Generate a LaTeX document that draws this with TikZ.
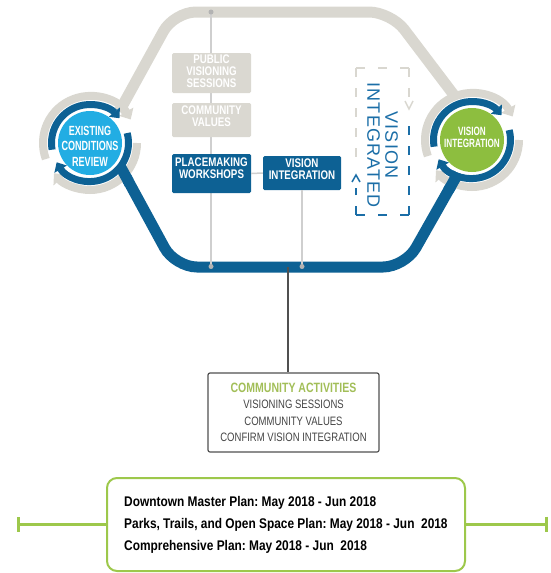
\documentclass[tikz,border=0pt]{standalone}
\usepackage{fontspec}
\setmainfont{Liberation Sans}
\newfontfamily\cond[FakeStretch=0.78]{Liberation Sans}
\newfontfamily\narr[FakeStretch=0.68]{Liberation Sans}
\newfontfamily\semi[FakeStretch=0.85]{Liberation Sans}
\newfontfamily\spaced[LetterSpace=6]{Liberation Sans}
\usetikzlibrary{arrows.meta}
\definecolor{trackgrey}{HTML}{D9D7D0}
\definecolor{boxgrey}{HTML}{DAD8D1}
\definecolor{dblue}{HTML}{0D6194}
\definecolor{lblue}{HTML}{22ADE3}
\definecolor{vgreen}{HTML}{8DBE3F}
\definecolor{agreen}{HTML}{A2BE58}
\definecolor{bgreen}{HTML}{9DC84B}
\definecolor{tblue}{HTML}{1B6EA7}
\definecolor{lgline}{HTML}{CFCFCF}
\definecolor{dotgrey}{HTML}{B3B3B3}
\definecolor{dgrey}{HTML}{505050}
\definecolor{tgrey}{HTML}{444444}
\frenchspacing
\begin{document}
\begin{tikzpicture}[x=1pt,y=-1pt,
  track/.style={line width=11pt, rounded corners=22pt},
  boxshape/.style={rectangle, inner sep=0pt, rounded corners=1.5pt, minimum width=79pt},
  gbox/.style={boxshape, fill=boxgrey},
  bbox/.style={boxshape, fill=dblue},
  boxtext/.style={text=white, align=center, inner sep=0pt, font=\cond\bfseries\fontsize{12.5}{12}\selectfont},
  circtext/.style={text=white, align=center, inner sep=0pt},
  vline/.style={lgline, line width=1.5pt},
  tdot/.style={circle, fill=dotgrey, inner sep=0pt, minimum size=5pt},
  dashg/.style={trackgrey, line width=1.7pt, dash pattern=on 9pt off 11pt},
  dashb/.style={tblue, line width=1.7pt, dash pattern=on 9pt off 11pt},
  dashgh/.style={trackgrey, line width=1.7pt, dash pattern=on 9pt off 13pt},
  dashbh/.style={tblue, line width=1.7pt, dash pattern=on 9pt off 13pt},
  chev/.style={line width=1.5pt},
  greyring/.style={trackgrey, line width=8pt, -{Triangle[width=16pt,length=9pt]}},
  bluering/.style={dblue, line width=7pt, -{Triangle[width=14pt,length=8pt]}},
  greenbar/.style={bgreen, line width=3pt}
]
\useasboundingbox (0,0) rectangle (550,573);

% centres and track corners
\coordinate (cL) at (90,143);
\coordinate (cR) at (472,140);
\coordinate (g1) at (102,143);
\coordinate (g2) at (174,12);
\coordinate (g3) at (391,12);
\coordinate (g4) at (488,140);
\coordinate (b1) at (107.6,143);
\coordinate (b2) at (175,267);
\coordinate (b3) at (405,267);
\coordinate (b4) at (477,140);

% tracks
\draw[track, trackgrey] (g1) -- (g2) -- (g3) -- (g4);
\draw[track, dblue] (b1) -- (b2) -- (b3) -- (b4);

% vertical guide lines
\coordinate (topdot) at (211,12);
\coordinate (botdot) at (211,266.5);
\coordinate (botdot2) at (302,266.5);
\draw[vline] (topdot) -- (botdot);

% boxes
\node[gbox, minimum height=40pt] (pvs) at (211.5,73) {};
\node[boxtext] (pvst) at (211.5,71.5) {PUBLIC\\VISIONING\\SESSIONS};
\node[gbox, minimum height=34pt] (cv) at (211.5,120) {};
\node[boxtext] (cvt) at (211.5,116) {COMMUNITY\\VALUES};
\node[bbox, minimum height=39pt] (pw) at (211.5,173.5) {};
\node[boxtext] (pwt) at (211.5,168) {PLACEMAKING\\WORKSHOPS};
\node[bbox, minimum width=78pt, minimum height=34pt] (vi) at (302,173) {};
\node[boxtext] (vit) at (302,169.5) {VISION\\INTEGRATION};
\draw[vline] (pw.east) -- (vi.west);
\draw[vline] (vi.south) -- (botdot2);

% circles: white base and grey rings
\foreach \c in {cL,cR} {
  \fill[white] (\c) circle (43);
  \begin{scope}[shift={(\c)}, y=1pt]
    \draw[greyring] (200:47) arc[start angle=200, end angle=30, radius=47];
    \draw[greyring] (0:47) arc[start angle=0, end angle=-140, radius=47];
  \end{scope}
}
% blue track over grey rings
\begin{scope}
  \clip (cL) circle (56) (cR) circle (56);
  \draw[track, dblue] (b1) -- (b2) -- (b3) -- (b4);
\end{scope}
% discs and blue rings
\foreach \c/\col in {cL/lblue, cR/vgreen} {
  \begin{scope}[shift={(\c)}, y=1pt]
    \fill[white] (0,0) circle (35.5);
    \fill[\col] (0,0) circle (32);
    \draw[bluering] (190:38.5) arc[start angle=190, end angle=40, radius=38.5];
    \draw[bluering] (15:38.5) arc[start angle=15, end angle=-150, radius=38.5];
  \end{scope}
}
\node[circtext, font=\narr\bfseries\fontsize{13.3}{15.5}\selectfont] (ecr) at (90,146) {EXISTING\\CONDITIONS\\REVIEW};
\node[circtext, font=\narr\bfseries\fontsize{12}{12}\selectfont] (vin) at (472,137.5) {VISION\\INTEGRATION};

% dots on tracks
\node[tdot] (td1) at (topdot) {};
\node[tdot] (td2) at (botdot) {};
\node[tdot] (td3) at (botdot2) {};

% dashed frame
\coordinate (fTL) at (356,68);
\coordinate (fTR) at (409,68);
\coordinate (fBL) at (356,215);
\coordinate (fBR) at (409,215);
\draw[dashgh] (fTL) -- (fTR);
\draw[dashg] (fTL) -- (356,162);
\draw[dashg] (fTR) -- (409,100);
\draw[dashbh] (fBL) -- (fBR);
\draw[dashb] (fBR) -- (409,118);
\draw[dashb] (fBL) -- (356,188);
\draw[chev, trackgrey] (405,101) -- (409,109) -- (413,101);
\draw[chev, tblue] (352,182) -- (356,175) -- (360,182);
\node[rotate=-90, text=tblue, align=center, inner sep=0pt, font=\spaced\fontsize{18}{18}\selectfont] (vint) at (382.5,145) {VISION\\INTEGRATED};

% community activities
\coordinate (actdot) at (288,267);
\node[draw=dgrey, line width=1.2pt, rounded corners=2pt, minimum width=171pt, minimum height=79pt, inner sep=0pt] (act) at (293.5,412.5) {};
\node[text=tgrey, align=center, inner sep=0pt, font=\cond\fontsize{12.2}{16.5}\selectfont] (actt) at (293.5,412.5)
  {{\color{agreen}\bfseries\fontsize{13.5}{16.5}\selectfont COMMUNITY ACTIVITIES}\\VISIONING SESSIONS\\COMMUNITY VALUES\\CONFIRM VISION INTEGRATION};
\draw[dgrey, line width=1.2pt] (actdot) -- (actdot |- act.north);

% schedule
\node[draw=bgreen, line width=2pt, rounded corners=10pt, minimum width=358pt, minimum height=93pt, inner sep=0pt] (plan) at (286,524.5) {};
\node[anchor=west, align=left, inner sep=0pt, font=\semi\bfseries\fontsize{14}{22}\selectfont] (plant) at (124,525)
  {Downtown Master Plan: May 2018 - Jun 2018\\Parks, Trails, and Open Space Plan: May 2018 - Jun \ 2018\\Comprehensive Plan: May 2018 - Jun \ 2018};
\coordinate (gl) at (17,524);
\coordinate (gr) at (548,524);
\draw[greenbar, {Bar[width=15pt]}-] (gl) -- (plan.west |- gl);
\draw[greenbar, -{Bar[width=15pt]}] (plan.east |- gr) -- (gr);
\end{tikzpicture}
\end{document}
